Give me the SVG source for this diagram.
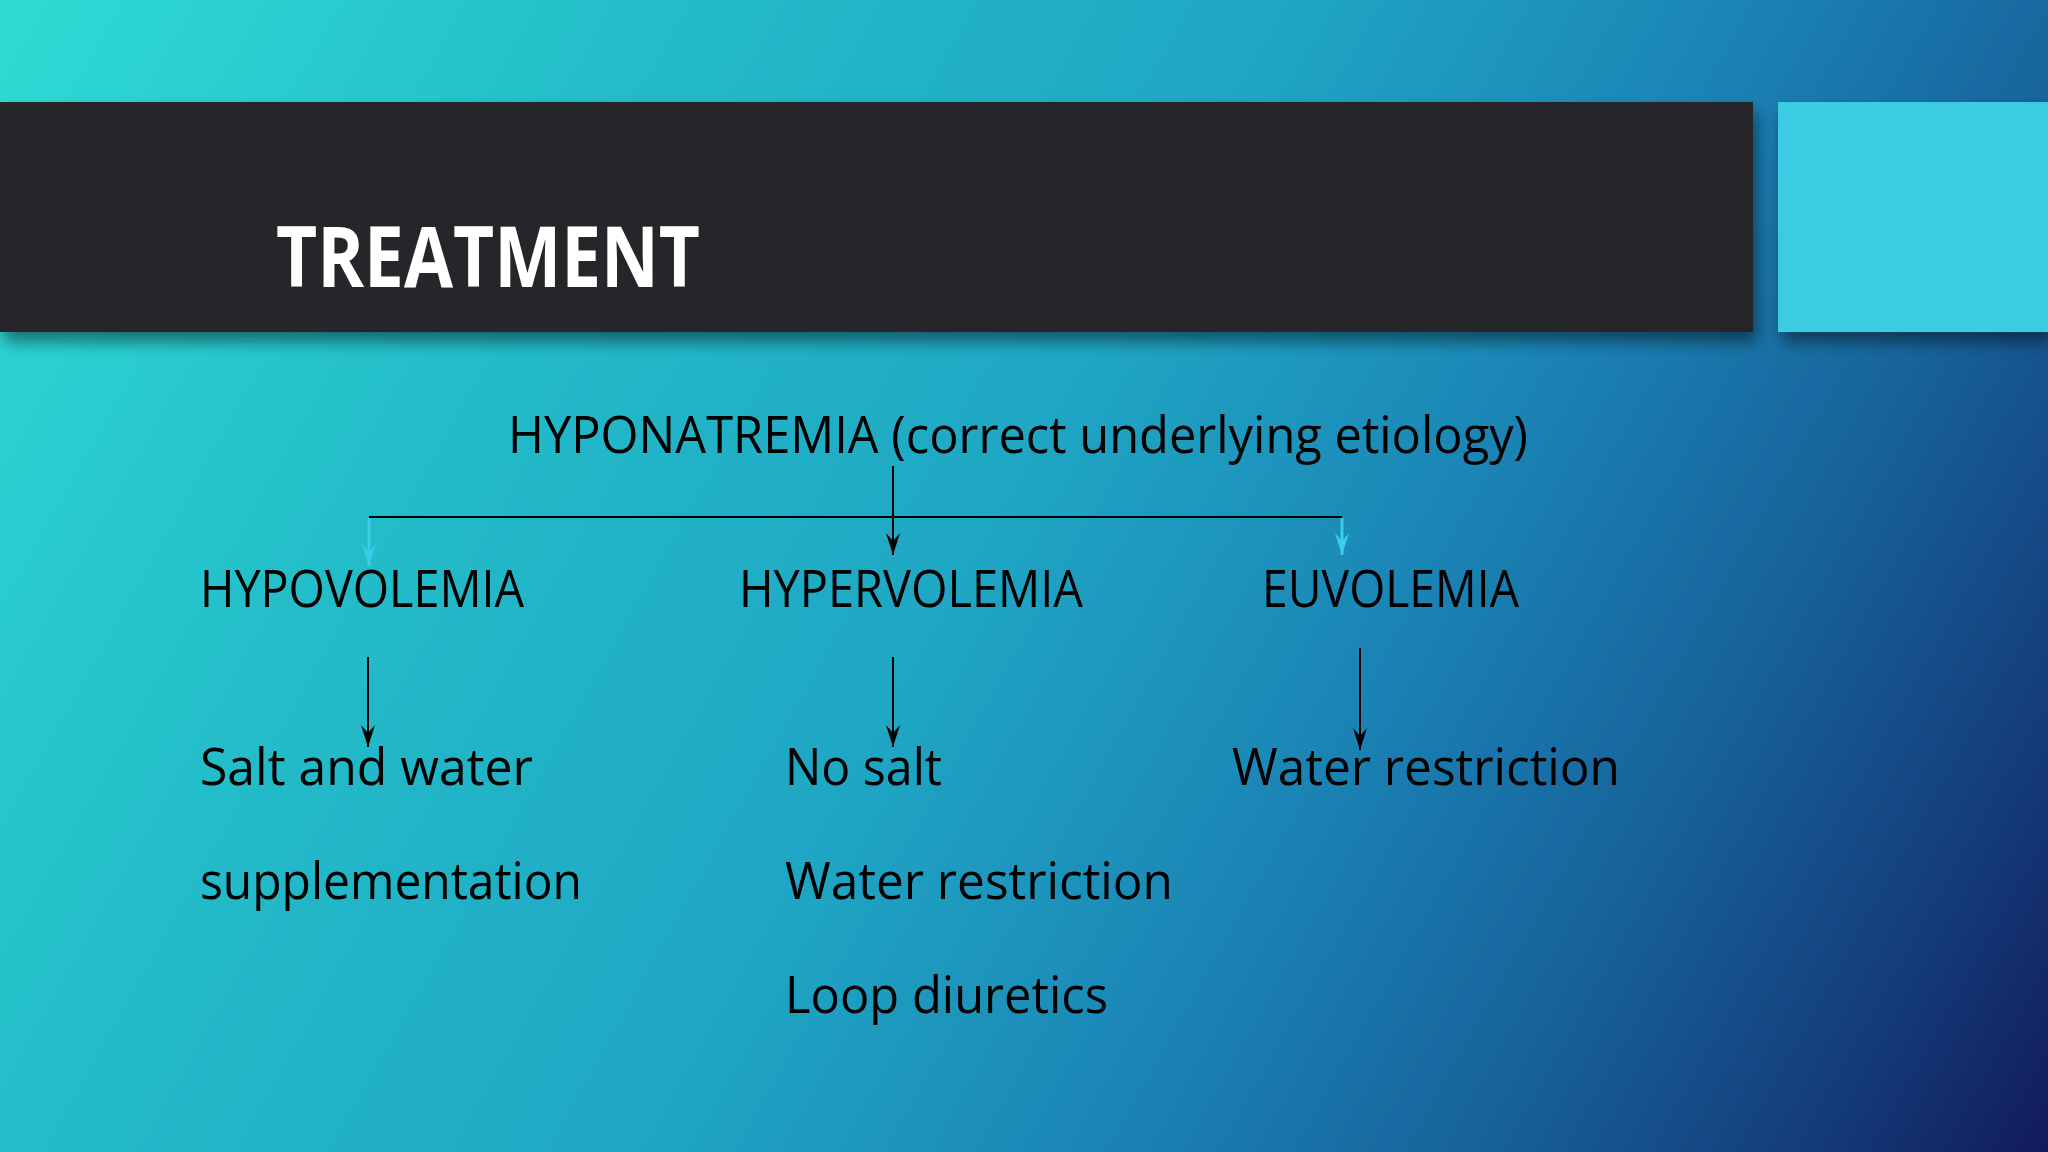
<svg xmlns="http://www.w3.org/2000/svg" width="2048" height="1152" viewBox="0 0 2048 1152">
<defs>
<linearGradient id="bg" gradientUnits="userSpaceOnUse" x1="0" y1="0" x2="2048" y2="1152">
<stop offset="0" stop-color="#2edbd4"/>
<stop offset="0.25" stop-color="#23bcc9"/>
<stop offset="0.48" stop-color="#1fa6c4"/>
<stop offset="0.64" stop-color="#1b86b6"/>
<stop offset="0.78" stop-color="#17649c"/>
<stop offset="0.9" stop-color="#143f7c"/>
<stop offset="1" stop-color="#121a5c"/>
</linearGradient>
<filter id="sh" x="-5%" y="-20%" width="110%" height="150%">
<feGaussianBlur in="SourceAlpha" stdDeviation="8"/>
<feOffset dx="4" dy="10"/>
<feComponentTransfer><feFuncA type="linear" slope="0.45"/></feComponentTransfer>
<feMerge><feMergeNode/><feMergeNode in="SourceGraphic"/></feMerge>
</filter>
<marker id="ab" markerUnits="userSpaceOnUse" markerWidth="26" markerHeight="16" viewBox="0 0 26 16" refX="24" refY="8" orient="auto">
<path d="M2,1 L24,8 L2,15 L10,8 z" fill="#000"/>
</marker>
<marker id="ac" markerUnits="userSpaceOnUse" markerWidth="26" markerHeight="16" viewBox="0 0 26 16" refX="24" refY="8" orient="auto">
<path d="M2,1 L24,8 L2,15 L10,8 z" fill="#3ccde6"/>
</marker>
<style>
.t{font-family:"Open Sans","Liberation Sans",sans-serif;font-size:52px;fill:#000;}
.title{font-family:"Open Sans","Liberation Sans",sans-serif;font-weight:bold;font-size:84px;fill:#fff;}
.k{stroke:#000;stroke-width:2;fill:none;}
.c{stroke:#3ccde6;stroke-width:3;fill:none;}
</style>
</defs>
<rect x="0" y="0" width="2048" height="1152" fill="url(#bg)"/>
<g id="header">
<rect x="0" y="102" width="1753" height="230" fill="#28262a" filter="url(#sh)"/>
<rect x="1778" y="102" width="270" height="230" fill="#3acce4" filter="url(#sh)"/>
<text class="title" x="276" y="287" textLength="424" lengthAdjust="spacingAndGlyphs">TREATMENT</text>
</g>
<g id="connectors">
<line class="k" x1="369" y1="517" x2="1342" y2="517"/>
<line class="k" x1="893" y1="466" x2="893" y2="555" marker-end="url(#ab)"/>
<line class="c" x1="369" y1="518" x2="369" y2="566" marker-end="url(#ac)"/>
<line class="c" x1="1342" y1="518" x2="1342" y2="555" marker-end="url(#ac)"/>
<line class="k" x1="368" y1="657" x2="368" y2="747" marker-end="url(#ab)"/>
<line class="k" x1="893" y1="657" x2="893" y2="747" marker-end="url(#ab)"/>
<line class="k" x1="1360" y1="648" x2="1360" y2="750" marker-end="url(#ab)"/>
</g>
<g id="hyponatremia"><text class="t" x="508" y="453" textLength="1020" lengthAdjust="spacingAndGlyphs">HYPONATREMIA (correct underlying etiology)</text></g>
<g id="hypovolemia"><text class="t" x="200" y="607" textLength="324" lengthAdjust="spacingAndGlyphs">HYPOVOLEMIA</text></g>
<g id="hypervolemia"><text class="t" x="739" y="607" textLength="344" lengthAdjust="spacingAndGlyphs">HYPERVOLEMIA</text></g>
<g id="euvolemia"><text class="t" x="1262" y="607" textLength="257" lengthAdjust="spacingAndGlyphs">EUVOLEMIA</text></g>
<g id="hypo-treatment">
<text class="t" x="200" y="785" textLength="333" lengthAdjust="spacingAndGlyphs">Salt and water</text>
<text class="t" x="200" y="899" textLength="382" lengthAdjust="spacingAndGlyphs">supplementation</text>
</g>
<g id="hyper-treatment">
<text class="t" x="785" y="785" textLength="157" lengthAdjust="spacingAndGlyphs">No salt</text>
<text class="t" x="785" y="899" textLength="388" lengthAdjust="spacingAndGlyphs">Water restriction</text>
<text class="t" x="785" y="1013" textLength="323" lengthAdjust="spacingAndGlyphs">Loop diuretics</text>
</g>
<g id="eu-treatment">
<text class="t" x="1232" y="785" textLength="388" lengthAdjust="spacingAndGlyphs">Water restriction</text>
</g>
</svg>
